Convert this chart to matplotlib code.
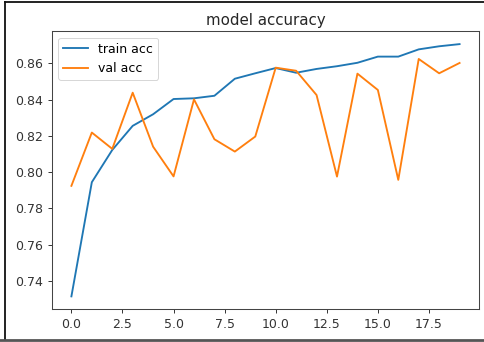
import matplotlib
matplotlib.use("Agg")
import matplotlib.pyplot as plt
from matplotlib.lines import Line2D

# Training history per epoch
epochs = list(range(20))
train_acc = [0.7314, 0.7944, 0.8122, 0.8255, 0.8319, 0.8403, 0.8407, 0.8421,
             0.8515, 0.8545, 0.8574, 0.8548, 0.8569, 0.8584, 0.8603, 0.8637,
             0.8637, 0.8677, 0.8694, 0.8706]
val_acc = [0.7924, 0.8218, 0.8128, 0.8438, 0.8140, 0.7976, 0.8401, 0.8181,
           0.8113, 0.8196, 0.8576, 0.8559, 0.8425, 0.7975, 0.8543, 0.8453,
           0.7957, 0.8624, 0.8545, 0.8602]

plt.rcParams["font.family"] = "DejaVu Sans"

fig = plt.figure(figsize=(4.85, 3.42), dpi=100)
ax = fig.add_axes([0.1072, 0.0965, 0.8804, 0.8114])

ax.plot(epochs, train_acc, color="#1f77b4", linewidth=1.35, label="train acc")
ax.plot(epochs, val_acc, color="#ff7f0e", linewidth=1.35, label="val acc")

ax.set_title("model accuracy", fontsize=10.8, pad=4.5, color="#262626")
ax.tick_params(labelsize=9, length=3.2, width=0.7, pad=3.2, colors="#333333")
for s in ax.spines.values():
    s.set_linewidth(0.75)
    s.set_color("#444444")

leg = ax.legend(loc="upper left", fontsize=9, frameon=True)
leg.get_frame().set_linewidth(0.7)

# Outer frame around the figure
fig.add_artist(Line2D([0.0113, 0.0113], [0.0058, 0.9927], transform=fig.transFigure,
                      color="#111111", linewidth=1.3))
fig.add_artist(Line2D([0.0113, 1.0], [0.9927, 0.9927], transform=fig.transFigure,
                      color="#111111", linewidth=1.3))
fig.add_artist(Line2D([0.0, 1.0], [0.0058, 0.0058], transform=fig.transFigure,
                      color="#555555", linewidth=2.0))

fig.savefig("out.png", dpi=100)
